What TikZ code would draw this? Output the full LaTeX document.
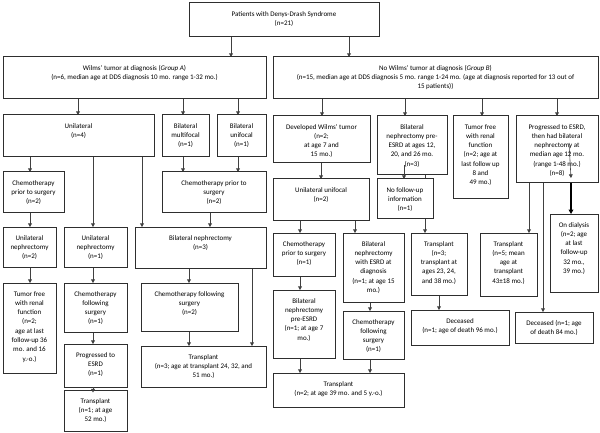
\documentclass[tikz,border=0pt]{standalone}
\usepackage{fontspec}
\setmainfont{Carlito}
\usetikzlibrary{arrows.meta,backgrounds}
\tikzset{
 box/.style={draw=black!82, line width=1pt, fill=white, inner sep=0pt, outer sep=0pt},
 txt/.style={font=\fontsize{7}{9.3}\selectfont, align=center, inner sep=0pt, text=black},
 arr/.style={draw=black!75, line width=0.8pt, -{Triangle[length=3.6pt,width=3.8pt]}},
 ln/.style={draw=black!75, line width=0.8pt},
 thickarr/.style={draw=black, line width=1.3pt, -{Triangle[length=4.5pt,width=4.8pt]}},
}
\newcommand\bx[6]{%
  \node[box, anchor=north west, minimum width={#4-#2}, minimum height={#5-#3}] (#1) at (#2,#3) {};
  \node[txt, anchor=north] (#1-t) at ([yshift=-6.3pt]#1.north) {\strut #6};
}
\begin{document}
\begin{tikzpicture}[x=1pt,y=-1pt]
\useasboundingbox (0,0) rectangle (600,433);
% top
\bx{top}{189}{3}{379}{37}{Patients with Denys-Drash Syndrome\\(n=21)}
\bx{ga}{3}{57}{266}{99}{Wilms’ tumor at diagnosis (\textit{Group A})\\(n=6, median age at DDS diagnosis 10 mo. range 1-32 mo.)}
\bx{gb}{273}{57}{598}{99}{No Wilms’ tumor at diagnosis (\textit{Group B})\\(n=15, median age at DDS diagnosis 5 mo. range 1-24 mo. (age at diagnosis reported for 13 out of\\15 patients))}
% group A
\bx{uni}{3}{115}{154}{157}{Unilateral\\(n=4)}
\bx{bm}{162}{115}{209}{157}{Bilateral\\multifocal\\(n=1)}
\bx{bu}{217}{115}{266}{157}{Bilateral\\unifocal\\(n=1)}
\bx{cpa}{3}{172}{64}{212}{Chemotherapy\\prior to surgery\\(n=2)}
\bx{cpb}{162}{172}{266}{212}{Chemotherapy prior to\\surgery\\(n=2)}
\bx{un2}{3}{227}{56}{267}{Unilateral\\nephrectomy\\(n=2)}
\bx{un1}{64}{227}{127}{267}{Unilateral\\nephrectomy\\(n=1)}
\bx{bn3}{135}{227}{266}{268}{Bilateral nephrectomy\\(n=3)}
\bx{tf}{3}{283}{56}{373}{Tumor free\\with renal\\function\\(n=2;\\age at last\\follow-up 36\\mo. and 16\\y.-o.)}
\bx{cf1}{64}{283}{127}{332}{Chemotherapy\\following\\surgery\\(n=1)}
\bx{cf2}{141}{283}{238}{331}{Chemotherapy following\\surgery\\(n=2)}
\bx{pe}{64}{344}{127}{387}{Progressed to\\ESRD\\(n=1)}
\bx{tone}{64}{390}{127}{431}{Transplant\\(n=1; at age\\52 mo.)}
\bx{t3a}{141}{346}{266}{387}{Transplant\\(n=3; age at transplant 24, 32, and\\51 mo.)}
% group B
\bx{dw}{273}{116}{370}{163}{Developed Wilms’ tumor\\(n=2;\\at age 7 and\\15 mo.)}
\bx{bnp}{377}{116}{447}{175}{Bilateral\\nephrectomy pre-\\ESRD at ages 12,\\20, and 26 mo.\\(n=3)}
\bx{tfb}{453}{116}{508}{198}{Tumor free\\with renal\\function\\(n=2; age at\\last follow up\\8 and\\49 mo.)}
\bx{esrd}{516}{116}{598}{183}{Progressed to ESRD,\\then had bilateral\\nephrectomy at\\median age 12 mo.\\(range 1-48 mo.)\\(n=8)}
\bx{uu}{273}{179}{369}{220}{Unilateral unifocal\\(n=2)}
\bx{nf}{377}{179}{433}{218}{No follow-up\\information\\(n=1)}
\bx{cpc}{273}{233}{335}{276}{Chemotherapy\\prior to surgery\\(n=1)}
\bx{bne}{343}{233}{404}{302}{Bilateral\\nephrectomy\\with ESRD at\\diagnosis\\(n=1; at age 15\\mo.)}
\bx{t3b}{411}{233}{467}{295}{Transplant\\(n=3;\\transplant at\\ages 23, 24,\\and 38 mo.)}
\bx{tfive}{480}{233}{537}{296}{Transplant\\(n=5; mean\\age at\\transplant\\43±18 mo.)}
\bx{od}{550}{214}{598}{292}{On dialysis\\(n=2; age\\at last\\follow-up\\32 mo.,\\39 mo.)}
\bx{bnpe}{273}{290}{335}{358}{Bilateral\\nephrectomy\\pre-ESRD\\(n=1; at age 7\\mo.)}
\bx{cf3}{343}{311}{404}{359}{Chemotherapy\\following\\surgery\\(n=1)}
\bx{dsix}{411}{310}{509}{345}{Deceased\\(n=1; age of death 96 mo.)}
\bx{deight}{515}{312}{593}{343}{Deceased (n=1; age\\of death 84 mo.)}
\bx{ttwo}{273}{373}{404}{407}{Transplant\\(n=2; at age 39 mo. and 5 y.-o.)}
% connectors
\begin{pgfonlayer}{background}
\draw[arr] (231,0 |- top.south) -- (231,0 |- ga.north);
\draw[arr] (349,0 |- top.south) -- (349,0 |- gb.north);
\draw[arr] (78,0 |- ga.south) -- (78,0 |- uni.north);
\draw[arr] (183,0 |- ga.south) -- (183,0 |- bm.north);
\draw[arr] (238,0 |- ga.south) -- (238,0 |- bu.north);
\draw[arr] (322,0 |- gb.south) -- (322,0 |- dw.north);
\draw[arr] (405,0 |- gb.south) -- (405,0 |- bnp.north);
\draw[arr] (482,0 |- gb.south) -- (482,0 |- tfb.north);
\draw[arr] (557,0 |- gb.south) -- (557,0 |- esrd.north);
\draw[arr] (30,0 |- uni.south) -- (30,0 |- cpa.north);
\draw[arr] (93,0 |- uni.south) -- (93,0 |- un1.north);
\draw[arr] (142,0 |- uni.south) -- (142,0 |- bn3.north);
\draw[arr] (183,0 |- bm.south) -- (183,0 |- cpb.north);
\draw[arr] (238,0 |- bu.south) -- (238,0 |- cpb.north);
\draw[arr] (30,0 |- cpa.south) -- (30,0 |- un2.north);
\draw[arr] (210,0 |- cpb.south) -- (210,0 |- bn3.north);
\draw[arr] (30,0 |- un2.south) -- (30,0 |- tf.north);
\draw[arr] (93,0 |- un1.south) -- (93,0 |- cf1.north);
\draw[arr] (189,0 |- bn3.south) -- (189,0 |- cf2.north);
\draw[arr] (252,0 |- bn3.south) -- (252,0 |- t3a.north);
\draw[arr] (93,0 |- cf1.south) -- (93,0 |- pe.north);
\draw[arr] (189,0 |- cf2.south) -- (189,0 |- t3a.north);
\draw[arr] (321,0 |- dw.south) -- (321,0 |- uu.north);
\draw[arr] (300,0 |- uu.south) -- (300,0 |- cpc.north);
\draw[arr] (355,0 |- uu.south) -- (355,0 |- bne.north);
\draw[arr] (300,0 |- cpc.south) -- (300,0 |- bnpe.north);
\draw[arr] (370,0 |- bne.south) -- (370,0 |- cf3.north);
\draw[arr] (300,0 |- bnpe.south) -- (300,0 |- ttwo.north);
\draw[arr] (370,0 |- cf3.south) -- (370,0 |- ttwo.north);
\draw[arr] (425,0 |- bnp.south) -- (425,0 |- t3b.north);
\draw[arr] (439,0 |- t3b.south) -- (439,0 |- dsix.north);
\draw[arr] (529,0 |- esrd.south) -- (529,0 |- tfive.north);
\draw[arr] (543,0 |- esrd.south) -- (543,0 |- deight.north);
\end{pgfonlayer}
\coordinate (toneIn) at ([yshift=-2.5pt]tone.north);
\draw[arr] (93,0 |- pe.south) -- (93,0 |- toneIn);
\coordinate (bnpIn) at (404,165);
\draw[arr] (bnpIn) -- (404,0 |- nf.north);
\coordinate (esrdIn) at (569,143);
\coordinate (esrdTip) at (571,178);
\draw[arr, line width=0.6pt] (esrdIn) -- (esrdTip);
\draw[thickarr] (571,0 |- esrd.south) -- (571,0 |- od.north);
\end{tikzpicture}
\end{document}
